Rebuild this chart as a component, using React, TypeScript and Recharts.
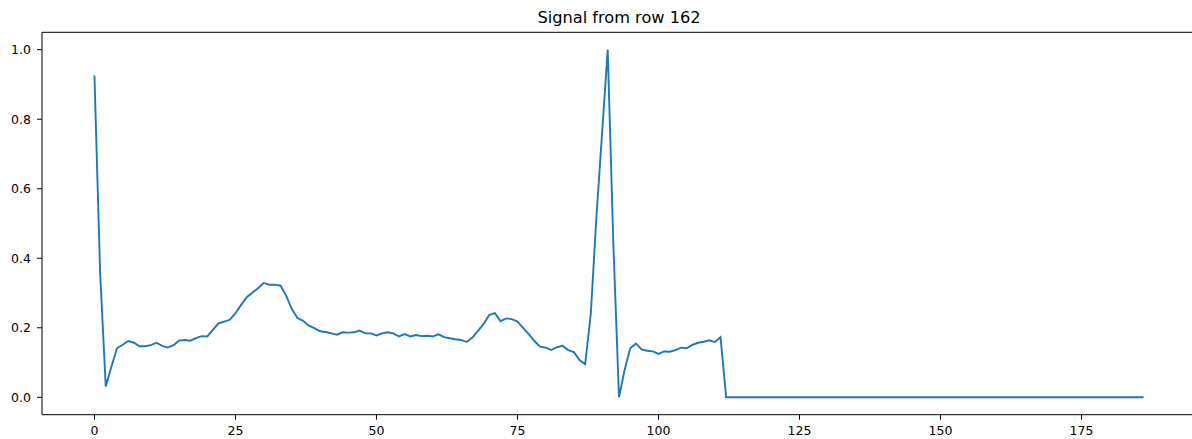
import React from "react";
import { LineChart, Line, XAxis, YAxis, ReferenceLine } from "recharts";

const TITLE = "Signal from row 162";

const signalHead: number[] = [
  0.926, 0.36, 0.031, 0.088, 0.141, 0.151, 0.162, 0.157, 0.147, 0.147,
  0.150, 0.157, 0.148, 0.143, 0.150, 0.163, 0.165, 0.163, 0.170, 0.176,
  0.175, 0.194, 0.213, 0.218, 0.223, 0.242, 0.266, 0.288, 0.301, 0.314,
  0.329, 0.324, 0.324, 0.321, 0.292, 0.254, 0.228, 0.220, 0.206, 0.199,
  0.190, 0.188, 0.184, 0.180, 0.187, 0.186, 0.187, 0.192, 0.184, 0.184,
  0.178, 0.184, 0.187, 0.184, 0.175, 0.182, 0.175, 0.179, 0.176, 0.177,
  0.175, 0.181, 0.173, 0.170, 0.167, 0.165, 0.159, 0.172, 0.191, 0.211,
  0.237, 0.242, 0.219, 0.227, 0.225, 0.218, 0.200, 0.182, 0.162, 0.146,
  0.143, 0.136, 0.144, 0.148, 0.136, 0.130, 0.107, 0.095, 0.24, 0.52,
  0.76, 1.0, 0.44, 0.0, 0.079, 0.141, 0.155, 0.138, 0.134, 0.132,
  0.125, 0.132, 0.131, 0.136, 0.143, 0.141, 0.151, 0.157, 0.160, 0.164,
  0.159, 0.173,
];

const signalTail: number[] = [
  0, 0, 0, 0, 0, 0, 0, 0, 0, 0, 0, 0, 0, 0, 0,
  0, 0, 0, 0, 0, 0, 0, 0, 0, 0, 0, 0, 0, 0, 0,
  0, 0, 0, 0, 0, 0, 0, 0, 0, 0, 0, 0, 0, 0, 0,
  0, 0, 0, 0, 0, 0, 0, 0, 0, 0, 0, 0, 0, 0, 0,
  0, 0, 0, 0, 0, 0, 0, 0, 0, 0, 0, 0, 0, 0, 0,
];

const xTicks: number[] = [0, 25, 50, 75, 100, 125, 150, 175];
const yTicks: number[] = [0, 0.2, 0.4, 0.6, 0.8, 1.0];

const signal = [...signalHead, ...signalTail];
const data = signal.map((v, i) => ({ x: i, y: v }));

const FONT = "'DejaVu Sans', sans-serif";
const tickStyle = { fontSize: 12.5, fill: "#000", fontFamily: FONT };

export default function App() {
  return (
    <div
      style={{
        position: "absolute",
        left: 0,
        top: 0,
        width: 1192,
        height: 439,
        overflow: "hidden",
        background: "#fff",
      }}
    >
      <LineChart
        width={1240}
        height={439}
        data={data}
        margin={{ top: 32.3, right: 44, left: 0, bottom: 0 }}
        style={{ position: "absolute", left: 0, top: 0 }}
      >
        <text
          x={619}
          y={23}
          textAnchor="middle"
          style={{ fontFamily: FONT, fontSize: 16.2, fill: "#000" }}
        >
          {TITLE}
        </text>
        <XAxis
          xAxisId="bottom"
          dataKey="x"
          type="number"
          domain={[-9.3, 195.3]}
          ticks={xTicks}
          allowDataOverflow
          height={24.3}
          tickSize={5}
          tickMargin={6.3}
          tick={tickStyle}
          axisLine={{ stroke: "#000", strokeWidth: 1 }}
          tickLine={{ stroke: "#000", strokeWidth: 1 }}
          interval={0}
        />
        <YAxis
          yAxisId="left"
          type="number"
          domain={[-0.05, 1.05]}
          ticks={yTicks}
          allowDataOverflow
          width={42}
          tickSize={5}
          tickMargin={6}
          tick={tickStyle}
          tickFormatter={(v: number) => v.toFixed(1)}
          axisLine={{ stroke: "#000", strokeWidth: 1 }}
          tickLine={{ stroke: "#000", strokeWidth: 1 }}
          interval={0}
        />
        <ReferenceLine
          xAxisId="bottom"
          yAxisId="left"
          y={1.05}
          stroke="#000"
          strokeWidth={1}
          ifOverflow="visible"
        />
        <Line
          xAxisId="bottom"
          yAxisId="left"
          type="linear"
          dataKey="y"
          stroke="#1f77b4"
          strokeWidth={1.9}
          dot={false}
          activeDot={false}
          isAnimationActive={false}
        />
      </LineChart>
    </div>
  );
}
